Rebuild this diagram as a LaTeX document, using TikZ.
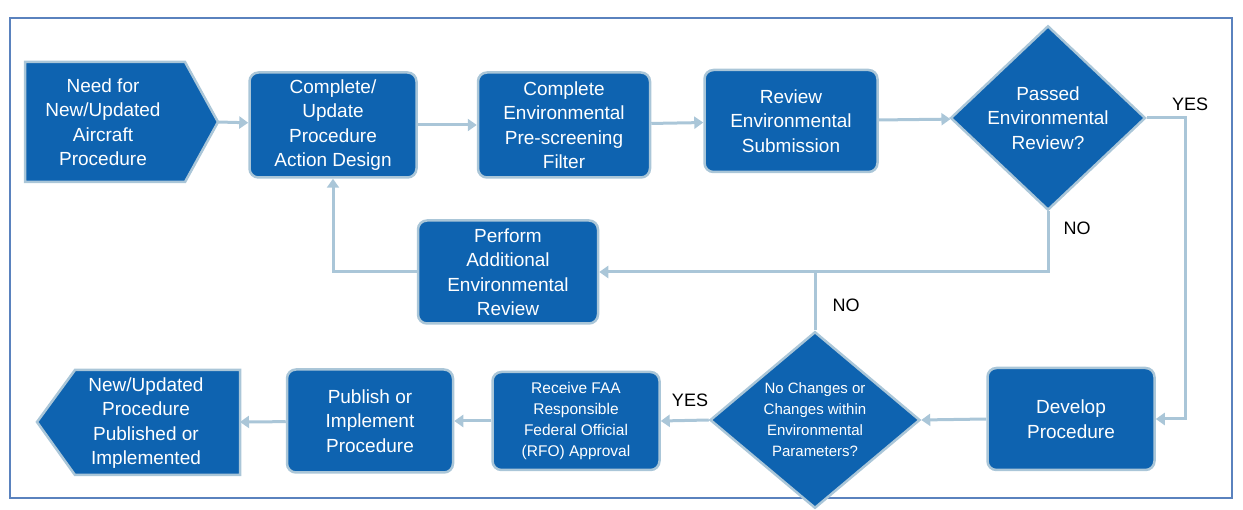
\documentclass[tikz,border=0pt]{standalone}
\usepackage{fontspec}
\setmainfont{Liberation Sans}
\usetikzlibrary{shapes.geometric,arrows.meta}
\definecolor{boxblue}{RGB}{14,99,176}
\definecolor{rimblue}{RGB}{170,198,216}
\definecolor{frameblue}{RGB}{90,130,190}
\tikzset{
  box/.style={rectangle, rounded corners=9pt, fill=boxblue, draw=rimblue, line width=2.5pt,
    text=white, align=center, font=\fontsize{19}{24.5}\selectfont},
  ask/.style={diamond, fill=boxblue, draw=rimblue, line width=2.5pt, text=white, align=center,
    inner sep=0pt},
  link/.style={draw=rimblue, line width=3pt, -{Triangle[length=9pt,width=12pt]}},
  tag/.style={font=\fontsize{18}{20}\selectfont}
}
\begin{document}
\begin{tikzpicture}[x=1pt,y=-1pt]
    \useasboundingbox (0,0) rectangle (1243,510);
    % frame
    \draw[frameblue, line width=1.2pt] (10,18) rectangle (1232,498);

    % start and end arrows
    \filldraw[fill=boxblue, draw=rimblue, line width=2.5pt]
        (25,62) -- (185,62) -- (218,122) -- (185,182) -- (25,182) -- cycle;
    \node[box, draw=none, fill=none] (need) at (103,122) {Need for\\New/Updated\\Aircraft\\Procedure};
    \coordinate (needtip) at (218,122);
    \filldraw[fill=boxblue, draw=rimblue, line width=2.5pt]
        (240,370) -- (75,370) -- (37,422) -- (75,475) -- (240,475) -- cycle;
    \node[box, draw=none, fill=none] (done) at (146,423) {New/Updated\\Procedure\\Published or\\Implemented};
    \coordinate (donetip) at (240,422);

    % top row
    \node[box, minimum width=167pt, minimum height=105pt] (design) at (333,125) {Complete/\\Update\\Procedure\\Action Design};
    \node[box, minimum width=172pt, minimum height=105pt] (screen) at (564,125) {Complete\\Environmental\\Pre-screening\\Filter};
    \node[box, minimum width=173pt, minimum height=102pt] (review) at (791,121) {Review\\Environmental\\Submission};
    \node[ask, minimum width=195pt, minimum height=148pt, font=\fontsize{19}{24.5}\selectfont] (passed) at (1048,118) {Passed\\Environmental\\Review?};

    % middle
    \node[box, minimum width=180pt, minimum height=103pt] (extra) at (508,272) {Perform\\Additional\\Environmental\\Review};

    % bottom row
    \node[box, minimum width=167pt, minimum height=102pt] (develop) at (1071,419) {Develop\\Procedure};
    \node[ask, minimum width=210pt, minimum height=165pt, font=\fontsize{15}{21}\selectfont] (within) at (815,420) {No Changes or\\Changes within\\Environmental\\Parameters?};
    \node[box, minimum width=167pt, minimum height=98pt, font=\fontsize{15.5}{21}\selectfont] (rfo) at (576,421) {Receive FAA\\Responsible\\Federal Official\\(RFO) Approval};
    \node[box, minimum width=166pt, minimum height=103pt] (publish) at (370,421) {Publish or\\Implement\\Procedure};

    % connectors
    \draw[link] (needtip) -- (design);
    \draw[link] (design) -- (screen);
    \draw[link] (screen) -- (review);
    \draw[link] (review) -- (passed);
    \draw[link] (passed.east) -- (1185,118) |- (develop.east);
    \draw[link] (passed.south) |- (extra.east);
    \draw[draw=rimblue, line width=3pt] (within.north) -- (815,270);
    \draw[link] (extra.west) -| (design.south);
    \draw[link] (develop.west) -- (within.east);
    \draw[link] (within.west) -- (rfo.east);
    \draw[link] (rfo) -- (publish);
    \draw[link] (publish) -- (donetip);

    % labels
    \node[tag] (yes1) at (1190,104) {YES};
    \node[tag] (no1) at (1077,228) {NO};
    \node[tag] (no2) at (846,305) {NO};
    \node[tag] (yes2) at (690,400) {YES};
\end{tikzpicture}
\end{document}
